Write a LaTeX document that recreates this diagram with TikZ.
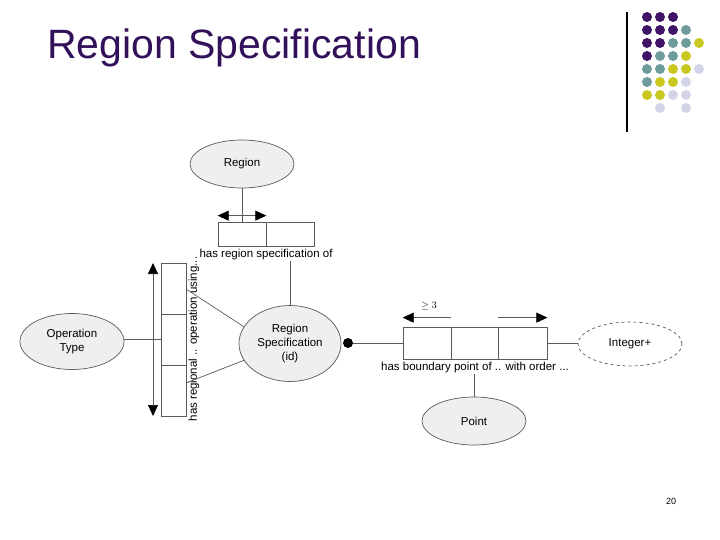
\documentclass[tikz,border=0pt]{standalone}
\usepackage{fontspec}
\setmainfont{Liberation Sans}
\usetikzlibrary{shapes.geometric,arrows.meta}
\definecolor{titlecol}{HTML}{33105A}
\definecolor{dP}{HTML}{3F1466}
\definecolor{dT}{HTML}{6E9C9C}
\definecolor{dY}{HTML}{C8C81E}
\definecolor{dL}{HTML}{D4D4E8}
\definecolor{linecol}{HTML}{5A5A5A}
\definecolor{ellfill}{HTML}{EFEFEF}
\tikzset{
  ent/.style={ellipse,draw=linecol,fill=ellfill,line width=0.7pt,inner sep=0pt,align=center,font=\fontsize{11.5}{14}\selectfont},
  cell/.style={rectangle,draw=linecol,fill=white,line width=0.7pt,inner sep=0pt},
  conn/.style={draw=linecol,line width=0.7pt},
  tip/.tip={Triangle[length=11pt,width=10pt,fill=black,color=black]},
  arr/.style={draw=linecol,line width=0.7pt,-tip},
  darr/.style={draw=linecol,line width=0.7pt,tip-tip},
  lbl/.style={font=\fontsize{11.5}{14}\selectfont,inner sep=1pt},
  dot/.style={circle,fill=#1,inner sep=0pt,minimum size=10pt}
}
\begin{document}
\begin{tikzpicture}[x=1pt,y=-1pt]
\useasboundingbox (0,0) rectangle (720,540);
% title
\node[anchor=base west,inner sep=0pt,text=titlecol,font=\fontsize{41}{46}\selectfont] (title) at (47,59) {Region Specification};
% decoration
\draw[line width=1.2pt] (627,12) coordinate (vl1) -- (627,132) coordinate (vl2);
\foreach \c/\r/\col in {0/0/dP,1/0/dP,2/0/dP,
  0/1/dP,1/1/dP,2/1/dP,3/1/dT,
  0/2/dP,1/2/dP,2/2/dT,3/2/dT,4/2/dY,
  0/3/dP,1/3/dT,2/3/dT,3/3/dY,
  0/4/dT,1/4/dT,2/4/dY,3/4/dY,4/4/dL,
  0/5/dT,1/5/dY,2/5/dY,3/5/dL,
  0/6/dY,1/6/dY,2/6/dL,3/6/dL,
  1/7/dL,3/7/dL}
  \node[dot=\col] (d\c\r) at ({647+13*\c},{17+13*\r}) {};
% Region
\node[ent,minimum width=104pt,minimum height=48pt] (R) at (242,164) {\raisebox{-1.5pt}{Region}};
\node[cell,minimum width=48pt,minimum height=24pt] (rb1) at (242,234) {};
\node[cell,minimum width=48pt,minimum height=24pt] (rb2) at (290,234) {};
\draw[conn] (R.south) -- (rb1.north);
\draw[darr] ([yshift=6pt]rb1.north west) -- ([yshift=6pt]rb1.north east);
\node[lbl] (l1) at (266,254.5) {has region specification of};
% Region Specification
\node[ent,minimum width=102pt,minimum height=76pt] (RS) at (290,343.5) {Region\\Specification\\(id)};
\draw[conn] (l1.south -| RS.north) -- (RS.north);
% Operation Type
\node[ent,minimum width=104pt,minimum height=56pt] (OT) at (72,341.5) {Operation\\Type};
\node[cell,minimum width=25pt,minimum height=51pt] (vb1) at (173.5,288.5) {};
\node[cell,minimum width=25pt,minimum height=51pt] (vb2) at (173.5,339.5) {};
\node[cell,minimum width=25pt,minimum height=51pt] (vb3) at (173.5,390.5) {};
\draw[conn] (OT.east |- vb2.west) -- (vb2.west);
\coordinate (va1) at (153,263);
\coordinate (va2) at (153,416);
\draw[darr] (va1) -- (va2);
\node[lbl,rotate=90] (l2) at (194,339) {has regional .. operation using...};
\coordinate (c1) at (186,289);
\coordinate (c2) at (186,383);
\draw[conn] (c1) -- (RS.160);
\draw[conn] (c2) -- (RS.200);
% boundary points
\node[circle,fill=black,inner sep=0pt,minimum size=10pt] (bd) at (348,343) {};
\node[cell,minimum width=48pt,minimum height=32pt] (hb1) at (427,343) {};
\node[cell,minimum width=47pt,minimum height=32pt] (hb2) at (474.5,343) {};
\node[cell,minimum width=49pt,minimum height=32pt] (hb3) at (522.5,343) {};
\draw[conn] (bd) -- (hb1.west);
\draw[arr] ([yshift=9pt]hb2.north west) -- ([yshift=9pt]hb1.north west);
\draw[arr] ([yshift=9pt]hb3.north west) -- ([yshift=9pt]hb3.north east);
\node[inner sep=0pt,font=\fontsize{10}{12}\selectfont] (ge) at (429,306) {$\geq 3$};
\node[lbl] (l3) at (475,367.5) {has boundary point of .. with order ...};
\node[ent,dashed,fill=white,minimum width=104pt,minimum height=44pt] (I) at (630,344) {\raisebox{-1.5pt}{Integer+}};
\draw[conn] (hb3.east) -- (I.west |- hb3.east);
\node[ent,minimum width=104pt,minimum height=48pt] (P) at (474,421) {\raisebox{-1.5pt}{Point}};
\draw[conn] (l3.south -| P.north) -- (P.north);
% page number
\node[font=\fontsize{9}{11}\selectfont,inner sep=0pt] (pg) at (671,501) {20};
\end{tikzpicture}
\end{document}
